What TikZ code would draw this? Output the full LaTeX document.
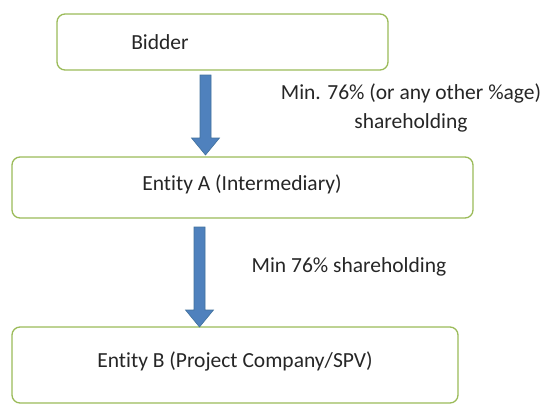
\documentclass[tikz,border=0pt]{standalone}
\usepackage{fontspec}
\setmainfont{Carlito}[Ligatures=NoCommon]
\usetikzlibrary{calc}
\definecolor{boxgreen}{HTML}{9BBB59}
\definecolor{arrowblue}{HTML}{4F81BD}
\definecolor{arrowedge}{HTML}{41719C}
\tikzset{
  box/.style={draw=boxgreen, line width=1.3pt, rounded corners=8pt, fill=white, inner sep=0pt},
  lbl/.style={font=\fontsize{21.5}{29}\selectfont, text=black!85, inner sep=0pt, align=center},
  blockarrow/.style={fill=arrowblue, draw=arrowedge, line width=0.6pt, line join=miter}
}
\newcommand\blkarrow[2]{%
  \draw[blockarrow] let \p1=(#1), \p2=(#2) in
    (\x1-5.5pt,\y1) -- (\x1+5.5pt,\y1) -- (\x1+5.5pt,\y2+17pt) -- (\x1+14pt,\y2+17pt)
    -- (\x1,\y2) -- (\x1-14pt,\y2+17pt) -- (\x1-5.5pt,\y2+17pt) -- cycle;}
\begin{document}
\begin{tikzpicture}[x=1pt,y=-1pt]
\useasboundingbox (0,0) rectangle (555,405);
% boxes
\node[box, minimum width=331pt, minimum height=56pt] (bidder) at (222.5,42) {};
\node[lbl] (bidderlbl) at (160,42) {Bidder};
\node[box, minimum width=461pt, minimum height=61pt] (entA) at (242.5,187.5) {};
\node[lbl] (entAlbl) at (242,184) {Entity A (Intermediary)};
\node[box, minimum width=446pt, minimum height=76pt] (entB) at (235,365) {};
\node[lbl] (entBlbl) at (235,361) {Entity B (Project Company/SPV)};
% arrows
\coordinate (a1s) at (205.5,75);
\coordinate (a1e) at (205.5,155);
\coordinate (a2s) at (199.5,227);
\coordinate (a2e) at (199.5,327);
\blkarrow{a1s}{a1e}
\blkarrow{a2s}{a2e}
% labels
\node[lbl] (l1) at (411,107.5) {Min. 76\% (or any other \%age)\\shareholding};
\node[lbl] (l2) at (349,267) {Min 76\% shareholding};
\end{tikzpicture}
\end{document}
